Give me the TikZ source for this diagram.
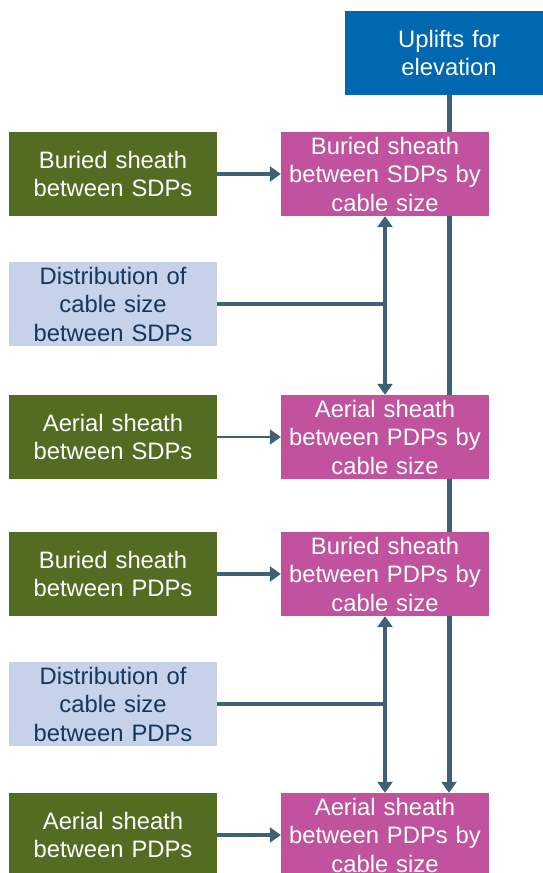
\documentclass[tikz,border=0pt]{standalone}
\usepackage{fontspec}
\setmainfont{Liberation Sans}
\usetikzlibrary{arrows.meta, backgrounds, calc}
\definecolor{UpliftBlue}{RGB}{0,103,177}
\definecolor{SheathMagenta}{RGB}{193,83,158}
\definecolor{InputGreen}{RGB}{84,107,34}
\definecolor{DistBlue}{RGB}{197,210,234}
\definecolor{FlowSlate}{RGB}{64,96,118}
\definecolor{DistText}{RGB}{22,54,92}

\begin{document}
\begin{tikzpicture}[x=1pt, y=-1pt, font=\fontsize{23.8}{28.5}\selectfont,
	box/.style={minimum width=208pt, minimum height=84pt, inner sep=0pt, text width=208pt, align=center, text=white},
	inbox/.style={box, fill=InputGreen},
	distbox/.style={box, fill=DistBlue, text=DistText},
	outbox/.style={box, fill=SheathMagenta},
	upbox/.style={box, fill=UpliftBlue},
	tip/.tip={Triangle[width=15pt, length=11pt]},
	fl/.style={-tip, line width=4.5pt, FlowSlate},
	thinfl/.style={-tip, line width=2pt, FlowSlate},
	link/.style={line width=4.5pt, FlowSlate}]

	\useasboundingbox (0,0) rectangle (542,873);

	% uplift
	\node[upbox] (up) at (449,53) {Uplifts for\\elevation};

	% inputs
	\node[inbox] (g1) at (113,174) {Buried sheath\\between SDPs};
	\node[distbox] (d1) at (113,304) {Distribution of\\cable size\\between SDPs};
	\node[inbox] (g2) at (113,437) {Aerial sheath\\between SDPs};
	\node[inbox] (g3) at (113,574) {Buried sheath\\between PDPs};
	\node[distbox] (d2) at (113,704) {Distribution of\\cable size\\between PDPs};
	\node[inbox] (g4) at (113,835) {Aerial sheath\\between PDPs};

	% outputs by cable size
	\node[outbox] (m1) at (385,174) {Buried sheath\\between SDPs by\\cable size};
	\node[outbox] (m2) at (385,437) {Aerial sheath\\between PDPs by\\cable size};
	\node[outbox] (m3) at (385,574) {Buried sheath\\between PDPs by\\cable size};
	\node[outbox] (m4) at (385,835) {Aerial sheath\\between PDPs by\\cable size};

	% flows
	\draw[fl] (g1) -- (m1);
	\draw[thinfl] (g2) -- (m2);
	\draw[fl] (g3) -- (m3);
	\draw[fl] (g4) -- (m4);

	\draw[fl, tip-tip] (m1.south) -- (m2.north);
	\draw[link] (d1.east) -- ($(d1.east -| m1.south)+(2.25,0)$);
	\draw[fl, tip-tip] (m3.south) -- (m4.north);
	\draw[link] (d2.east) -- ($(d2.east -| m3.south)+(2.25,0)$);

	% uplift line behind the boxes
	\begin{scope}[on background layer]
		\draw[fl, line width=5pt] (up.south) -- (up.south |- m4.north);
	\end{scope}
\end{tikzpicture}
\end{document}
